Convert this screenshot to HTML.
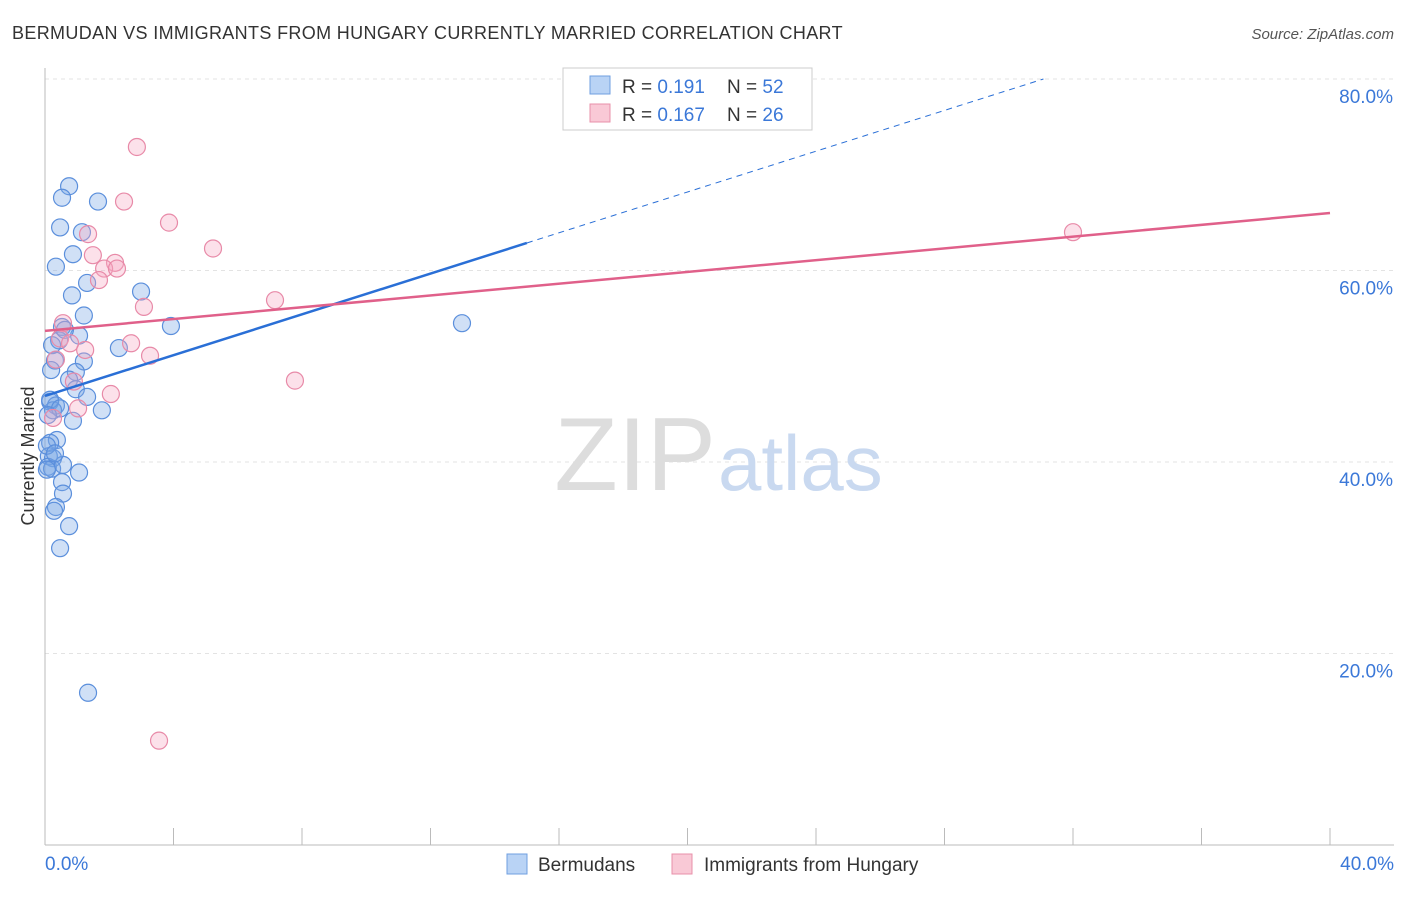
<!DOCTYPE html>
<html><head><meta charset="utf-8"><style>
body{margin:0;background:#fff;font-family:"Liberation Sans",sans-serif;}
svg text{font-family:"Liberation Sans",sans-serif;}
</style></head><body>
<svg id="chart" width="1406" height="892">
<text x="12" y="39" font-size="18" fill="#333" letter-spacing="0.35">BERMUDAN VS IMMIGRANTS FROM HUNGARY CURRENTLY MARRIED CORRELATION CHART</text>
<text x="1394" y="39" font-size="15" fill="#555" font-style="italic" text-anchor="end">Source: ZipAtlas.com</text>
<g id="grid"></g>
<text x="716" y="490" font-size="104" fill="#ddd" text-anchor="end" font-family="Liberation Serif">ZIP</text>
<text x="718" y="490" font-size="78" fill="#c9d9f0">atlas</text>
<line x1="45" y1="68" x2="45" y2="845" stroke="#bbb"/>
<line x1="45" y1="845" x2="1394" y2="845" stroke="#bbb"/>
<g id="ticks"></g>
<text x="34" y="456" font-size="18" fill="#333" text-anchor="middle" transform="rotate(-90 34 456)">Currently Married</text>
<g id="marks"></g>
<g>
<rect x="563" y="68" width="249" height="62" fill="#fff" stroke="#ccc"/>
<rect x="590" y="76" width="20" height="18" fill="#b9d3f5" stroke="#6f9fe0"/>
<rect x="590" y="104" width="20" height="18" fill="#f9c9d6" stroke="#e890aa"/>
<text x="622" y="93" font-size="19" fill="#333">R = <tspan fill="#3b78d8">0.191</tspan></text>
<text x="727" y="93" font-size="19" fill="#333">N = <tspan fill="#3b78d8">52</tspan></text>
<text x="622" y="121" font-size="19" fill="#333">R = <tspan fill="#3b78d8">0.167</tspan></text>
<text x="727" y="121" font-size="19" fill="#333">N = <tspan fill="#3b78d8">26</tspan></text>
</g>
<g>
<rect x="507" y="854" width="20" height="20" fill="#b9d3f5" stroke="#6f9fe0"/>
<text x="538" y="871" font-size="19" fill="#333">Bermudans</text>
<rect x="672" y="854" width="20" height="20" fill="#f9c9d6" stroke="#e890aa"/>
<text x="704" y="871" font-size="19" fill="#333">Immigrants from Hungary</text>
</g>
</svg>
<script>
const blueX=[0.75,0.53,1.65,0.47,1.15,0.87,0.34,1.31,0.84,2.99,1.21,3.92,0.53,1.06,2.30,0.44,0.31,1.21,0.19,0.96,0.75,0.96,1.31,0.16,0.34,0.25,1.77,0.87,0.37,0.16,0.12,0.25,0.09,0.22,0.56,1.06,0.53,0.56,0.34,0.28,0.75,0.47,1.34,12.98,0.16,0.06,0.06,0.31,0.47,0.09,0.22,0.62];
const blueY=[68.8,67.6,67.2,64.5,64.0,61.7,60.4,58.7,57.4,57.8,55.3,54.2,54.1,53.2,51.9,52.7,50.6,50.5,49.6,49.4,48.6,47.6,46.8,46.3,45.9,45.4,45.4,44.3,42.3,42.0,40.6,40.4,39.5,39.3,39.7,38.9,37.9,36.7,35.3,34.9,33.3,31.0,15.9,54.5,46.5,41.7,39.2,40.9,45.6,44.9,52.2,53.8];
const pinkX=[2.86,2.46,3.86,1.34,5.23,1.49,2.18,1.84,2.24,1.68,7.16,3.08,0.56,2.68,0.47,0.78,1.25,3.27,0.34,7.78,0.90,2.05,1.03,0.25,3.55,32.0];
const pinkY=[72.9,67.2,65.0,63.8,62.3,61.6,60.8,60.2,60.2,59.0,56.9,56.2,54.5,52.4,52.9,52.4,51.7,51.1,50.7,48.5,48.4,47.1,45.6,44.6,10.9,64.0];
const yTicks=[20,40,60,80];
const xTickLabels=["0.0%","40.0%"];
const blueTrend=[46.9,1.065,15.0];
const pinkTrend=[53.7,66.0];
const sx=v=>45+v*32.125, sy=v=>845-v*9.575;
const NS="http://www.w3.org/2000/svg";
function mk(t,a,p){const e=document.createElementNS(NS,t);for(const k in a)e.setAttribute(k,a[k]);p.appendChild(e);return e;}
const grid=document.getElementById('grid'),ticks=document.getElementById('ticks'),marks=document.getElementById('marks');
yTicks.forEach(v=>{
 const l=mk('line',{x1:45,x2:1394,y1:sy(v),y2:sy(v),stroke:'#e3e3e3','stroke-dasharray':'4 4'},grid);
 
 
 const t=mk('text',{x:1393,y:sy(v)+24,'font-size':19,fill:'#3b78d8','text-anchor':'end'},ticks);
 t.textContent=v.toFixed(1)+'%';
 
 
});
for(let i=1;i<=10;i++){
 const x=sx(i*4);
 const l=mk('line',{x1:x,x2:x,y1:828,y2:845,stroke:'#bbb'},ticks);
 
 
}
[[0,'start',45],[40,'end',1394]].forEach((a,i)=>{
 const t=mk('text',{x:a[2],y:870,'font-size':19,fill:'#3b78d8','text-anchor':a[1]},ticks);
 t.textContent=xTickLabels[i];
 
 
});
blueX.forEach((x,i)=>{
 const c=mk('circle',{cx:sx(x),cy:sy(blueY[i]),r:8.5,fill:'rgba(120,165,230,0.35)',stroke:'#5b8fdc','stroke-width':1.2},marks);
 
 
});
pinkX.forEach((x,i)=>{
 const c=mk('circle',{cx:sx(x),cy:sy(pinkY[i]),r:8.5,fill:'rgba(245,170,195,0.35)',stroke:'#e88aa8','stroke-width':1.2},marks);
 
 
});
const bEnd=(80-blueTrend[0])/blueTrend[1];
let l=mk('line',{x1:sx(0),y1:sy(blueTrend[0]),x2:sx(blueTrend[2]),y2:sy(blueTrend[0]+blueTrend[1]*blueTrend[2]),stroke:'#2a6fd6','stroke-width':2.5},marks);


l=mk('line',{x1:sx(blueTrend[2]),y1:sy(blueTrend[0]+blueTrend[1]*blueTrend[2]),x2:sx(bEnd),y2:sy(80),stroke:'#2a6fd6','stroke-width':1,'stroke-dasharray':'6 5'},marks);


l=mk('line',{x1:sx(0),y1:sy(pinkTrend[0]),x2:sx(40),y2:sy(pinkTrend[1]),stroke:'#e0608a','stroke-width':2.5},marks);


</script>
</body></html>
